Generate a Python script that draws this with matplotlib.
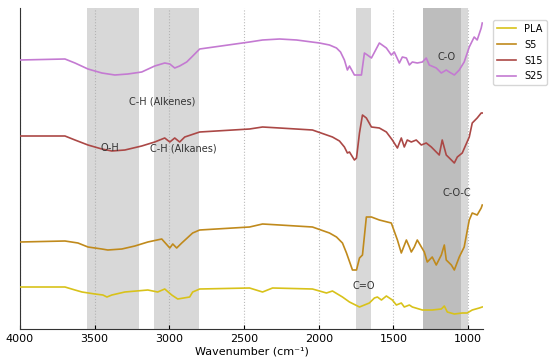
import matplotlib
matplotlib.use("Agg")
import matplotlib.pyplot as plt

# Series: wavenumber (cm-1) and offset transmittance (arbitrary units)
pla_x = [4000, 3699, 3632, 3585, 3498, 3445, 3418, 3385, 3298, 3144, 3078, 3031, 2984, 2944, 2864, 2844, 2797,
         2463, 2376, 2309, 2042, 1948, 1908, 1841, 1794, 1727, 1661, 1627, 1607, 1580, 1547,
         1527, 1507, 1480, 1447, 1427, 1393, 1373, 1306, 1240, 1179, 1159, 1139, 1092, 1039,
         1006, 972, 925, 905]
pla_y = [42, 42, 39, 37, 35, 34, 32, 34, 37, 39, 37, 40, 34, 30, 32, 37, 40,
         41, 37, 41, 40, 36, 38, 32, 27, 22, 26, 31, 32, 29, 33,
         31, 29, 24, 26, 22, 24, 22, 19, 19, 20, 23, 17, 15, 16,
         16, 19, 21, 22]

s5_x = [4000, 3699, 3612, 3545, 3452, 3412, 3318, 3231, 3144, 3051, 2997, 2977, 2951, 2917, 2844, 2797,
        2463, 2376, 2262, 2042, 1928, 1881, 1841, 1814, 1774, 1747, 1727, 1707, 1681, 1647,
        1594, 1514, 1473, 1447, 1413, 1393, 1380, 1360, 1340, 1293, 1273, 1240, 1213,
        1179, 1159, 1146, 1112, 1092, 1059, 1026, 992, 972, 939, 912, 905]
s5_y = [87, 88, 86, 82, 80, 79, 80, 83, 87, 90, 81, 85, 81, 86, 96, 99,
        102, 105, 104, 102, 96, 92, 86, 76, 59, 59, 71, 74, 112, 112,
        109, 106, 89, 76, 89, 82, 77, 82, 89, 77, 67, 72, 64,
        74, 84, 69, 64, 59, 72, 82, 109, 116, 114, 121, 124]

s15_x = [4000, 3699, 3632, 3545, 3452, 3385, 3298, 3185, 3098, 3031, 2997, 2964, 2931, 2897, 2797,
         2463, 2376, 2262, 2042, 1908, 1861, 1828, 1808, 1794, 1761, 1747, 1727, 1707, 1681,
         1647, 1594, 1547, 1507, 1473, 1447, 1427, 1407, 1380, 1347, 1313, 1280, 1246,
         1213, 1193, 1173, 1146, 1112, 1092, 1072, 1039, 992, 972, 939, 912, 905]
s15_y = [193, 193, 189, 184, 180, 178, 179, 183, 187, 191, 187, 191, 187, 192, 197,
         200, 202, 201, 199, 192, 188, 182, 176, 177, 169, 171, 196, 214, 211,
         202, 201, 197, 189, 181, 191, 182, 189, 187, 189, 184, 186, 182,
         177, 174, 189, 174, 169, 166, 172, 176, 192, 206, 211, 216, 216]

s25_x = [4000, 3699, 3632, 3545, 3452, 3365, 3278, 3185, 3098, 3031, 2997, 2964, 2931, 2884, 2850, 2797,
         2463, 2376, 2262, 2148, 1995, 1928, 1881, 1854, 1828, 1808, 1794, 1761, 1714, 1694, 1674,
         1647, 1594, 1547, 1514, 1494, 1460, 1440, 1413, 1393, 1373, 1340, 1306, 1280,
         1260, 1213, 1179, 1146, 1126, 1092, 1059, 1026, 992, 959, 939, 912, 905]
s25_y = [269, 270, 266, 260, 256, 254, 255, 257, 263, 266, 265, 261, 263, 267, 272, 280,
         287, 289, 290, 289, 286, 284, 281, 277, 269, 259, 263, 254, 254, 276, 274,
         271, 286, 281, 274, 277, 266, 272, 271, 264, 267, 266, 267, 271,
         264, 261, 256, 259, 257, 254, 259, 267, 282, 292, 289, 301, 306]

series_names = ["PLA", "S5", "S15", "S25"]
series_colors = ["#d8c21a", "#c08a1c", "#ab4846", "#c47ad2"]

spans = [(3550, 3200), (3100, 2800), (1750, 1650), (1300, 1000), (1300, 1050)]

labels = ["C-H (Alkenes)", "O-H", "C-H (Alkanes)", "C-O", "C-O-C", "C=O"]
label_x = [3051, 3398, 2904, 1146, 1072, 1701]
label_y = [228, 181, 181, 272, 136, 43]

fig = plt.figure(figsize=(5.5, 3.63), dpi=100)
ax = fig.add_axes([20 / 550, 1 - 329 / 363, (483 - 20) / 550, (329 - 8) / 363])

for a, b in spans:
    ax.axvspan(a, b, color="gray", alpha=0.3, lw=0, zorder=0)

xs = [pla_x, s5_x, s15_x, s25_x]
ys = [pla_y, s5_y, s15_y, s25_y]
for x, y, n, c in zip(xs, ys, series_names, series_colors):
    ax.plot(x, y, color=c, lw=1.2, label=n, zorder=3, solid_joinstyle="round")

for t, x, y in zip(labels, label_x, label_y):
    ax.text(x, y, t, ha="center", va="center", fontsize=7, color="#333333", zorder=4)

ax.set_xlim(4000, 900)
ax.set_ylim(0, 321)
ax.set_xticks([4000, 3500, 3000, 2500, 2000, 1500, 1000])
ax.set_yticks([])
ax.tick_params(axis="x", direction="in", labelsize=8, length=3)
ax.grid(axis="x", color="#aaaaaa", ls=":", lw=0.8, alpha=0.8, zorder=1)
ax.set_axisbelow(True)
for s in ["top", "right"]:
    ax.spines[s].set_visible(False)
ax.spines["left"].set_color("#333333")
ax.spines["bottom"].set_color("#333333")
ax.set_xlabel("Wavenumber (cm⁻¹)", fontsize=8, labelpad=2)

fig.legend(loc="upper left", bbox_to_anchor=(493 / 550, 1 - 20 / 363), fontsize=7,
           frameon=True, edgecolor="#cccccc", fancybox=True, handlelength=2,
           borderaxespad=0, labelspacing=0.6)

fig.savefig("out.png", dpi=100)
